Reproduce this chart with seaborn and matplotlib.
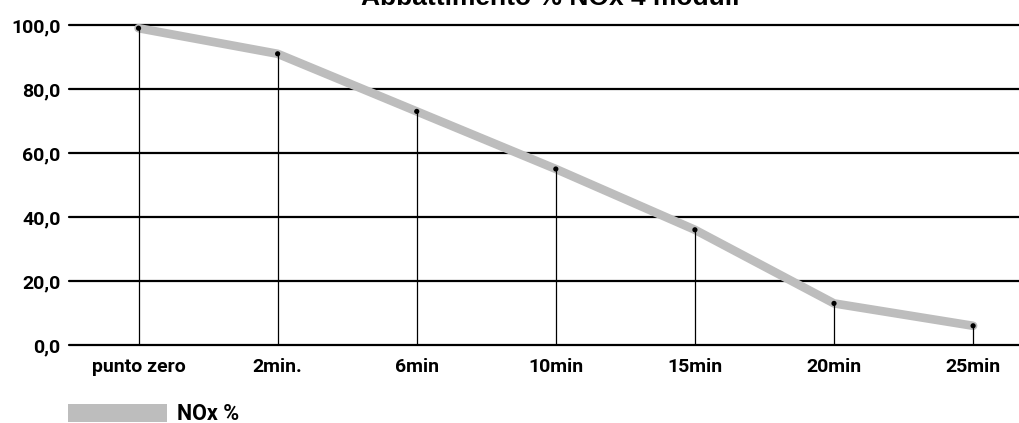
import matplotlib
matplotlib.use("Agg")
import matplotlib.pyplot as plt
from matplotlib.patches import Patch
import seaborn as sns
import pandas as pd

categories = ["punto zero", "2min.", "6min", "10min", "15min", "20min", "25min"]
nox_pct = [99.0, 91.0, 73.0, 55.0, 36.0, 13.0, 6.0]
y_ticks = [0, 20, 40, 60, 80, 100]
y_tick_labels = ["0,0", "20,0", "40,0", "60,0", "80,0", "100,0"]
title = "Abbattimento % NOx 4 moduli"
series_label = "NOx %"

sns.set_theme(style="white")
plt.rcParams["font.family"] = ["Roboto", "DejaVu Sans"]

df = pd.DataFrame({"pos": range(len(categories)), "value": nox_pct})

W, H = 1019, 423
fig = plt.figure(figsize=(W / 100, H / 100), dpi=100)
ax = fig.add_axes([69 / W, (H - 345) / H, (W - 69) / W, 320 / H])

# horizontal reference lines
for t in y_ticks:
    ax.axhline(t, color="black", lw=1.6, zorder=1, clip_on=False)

# thick grey trend line
sns.lineplot(data=df, x="pos", y="value", ax=ax, color="#bdbdbd", lw=6.2,
             solid_capstyle="round", solid_joinstyle="round", zorder=2,
             clip_on=False, legend=False)

# stems and markers
ax.vlines(df["pos"], 0, df["value"], color="black", lw=0.9, zorder=3)
sns.scatterplot(data=df, x="pos", y="value", ax=ax, color="black", s=14,
                edgecolor="none", zorder=4, clip_on=False, legend=False)

ax.set_xlim(-0.5, 6.33)
ax.set_ylim(0, 100)
ax.set_xticks(range(len(categories)))
ax.set_xticklabels(categories)
ax.set_yticks(y_ticks)
ax.set_yticklabels(y_tick_labels)
ax.set_xlabel("")
ax.set_ylabel("")
for s in ax.spines.values():
    s.set_visible(False)
ax.tick_params(axis="x", length=0, pad=9, labelsize=14, labelcolor="black")
ax.tick_params(axis="y", length=0, pad=6, labelsize=14, labelcolor="black")
for lab in ax.get_xticklabels() + ax.get_yticklabels():
    lab.set_fontweight("bold")
ax.grid(False)

fig.text(550 / W, 1 - 5 / H, title, ha="center", va="baseline",
         fontsize=19, fontweight="bold", color="black",
         family=["Liberation Sans", "DejaVu Sans"])

handle = Patch(facecolor="#bdbdbd", edgecolor="none")
fig.legend([handle], [series_label], loc="upper left",
           bbox_to_anchor=(68 / W, 1 - 403 / H), frameon=False,
           handlelength=4.6, handleheight=0.9, handletextpad=0.45,
           labelcolor="black", borderpad=0,
           prop={"size": 15.5, "weight": "bold"}, borderaxespad=0)

fig.savefig("out.png", dpi=100)
